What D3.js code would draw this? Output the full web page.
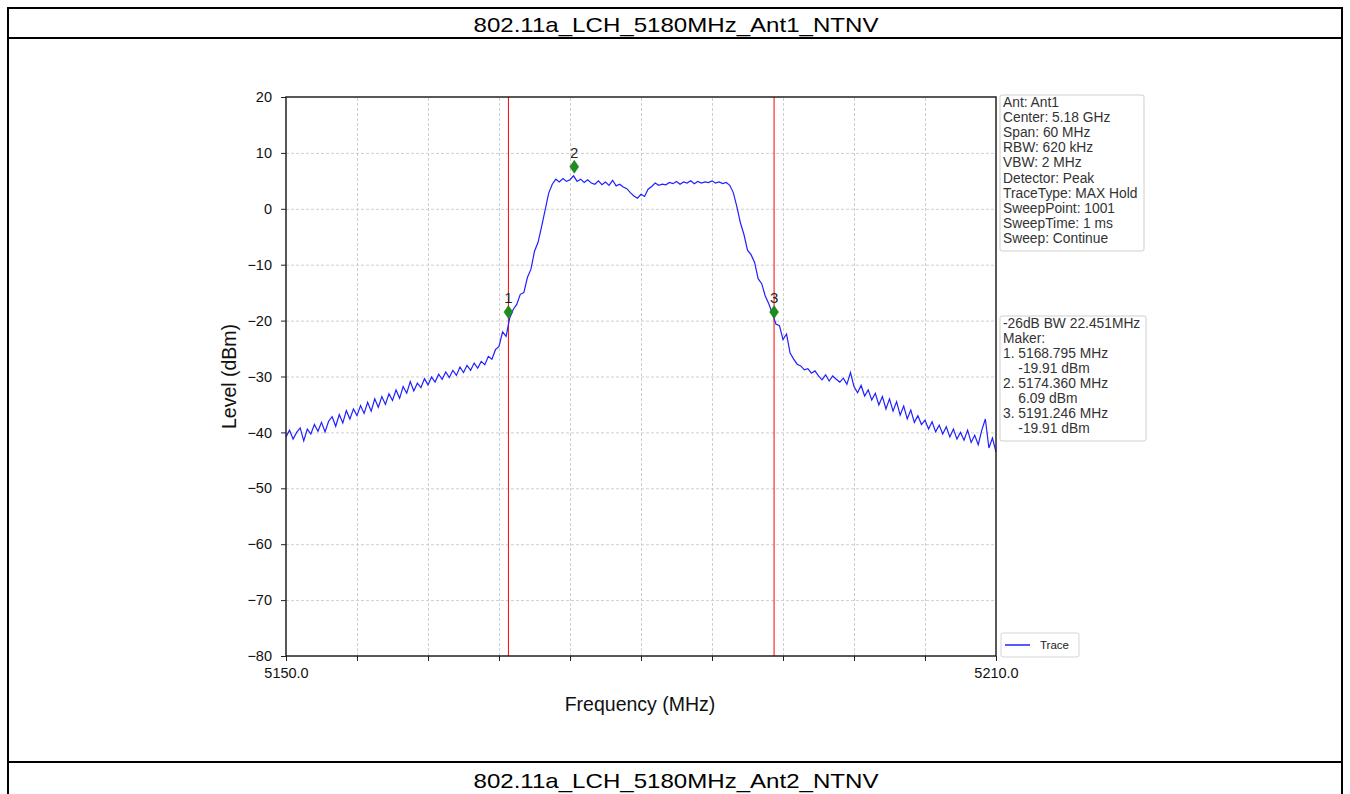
<!DOCTYPE html>
<html><head><meta charset="utf-8">
<script src="https://cdn.jsdelivr.net/npm/d3@7"></script>
<style>
html,body{margin:0;padding:0;background:#fff;}
text{font-family:"Liberation Sans",Arial,sans-serif;}
</style></head>
<body><svg id="c" width="1350" height="794"></svg>
<script>
// ---------- data ----------
const tableTitles = ["802.11a_LCH_5180MHz_Ant1_NTNV", "802.11a_LCH_5180MHz_Ant2_NTNV"];
const freqStart = 5150, freqStop = 5210, freqStep = 0.3;
const traceLevels = [
-40.8,-39.6,-41.2,-40.0,-39.2,-41.5,-39.4,-40.3,-38.6,-39.8,
-38.2,-39.9,-38.0,-37.2,-38.9,-36.8,-38.3,-36.1,-37.6,-35.8,
-37.0,-35.2,-36.6,-34.6,-36.2,-34.0,-35.5,-33.6,-35.0,-33.1,
-34.3,-32.4,-33.9,-31.8,-33.0,-30.9,-32.6,-31.2,-32.0,-30.4,
-31.5,-30.1,-31.0,-29.6,-30.5,-29.2,-30.2,-28.9,-29.8,-28.3,
-29.3,-28.0,-28.9,-27.6,-28.5,-27.3,-27.9,-26.4,-26.9,-25.2,
-24.6,-22.0,-22.8,-19.6,-18.0,-17.1,-15.3,-15.0,-12.3,-10.8,
-7.6,-6.0,-3.2,-0.2,2.8,4.4,5.3,4.8,5.4,4.9,
5.2,5.9,4.9,5.3,4.7,5.2,4.6,4.4,5.0,4.3,
4.8,4.2,5.1,4.1,4.4,3.9,3.6,2.9,2.3,1.9,
2.6,2.2,3.5,4.0,4.6,4.2,4.4,4.3,4.7,4.5,
4.9,4.4,4.8,4.6,5.0,4.5,4.9,4.6,4.8,4.7,
5.0,4.6,4.8,4.5,4.7,4.2,2.9,0.4,-2.5,-4.6,
-7.4,-8.2,-9.6,-12.5,-13.4,-15.6,-17.0,-18.7,-20.6,-20.9,
-23.4,-22.4,-25.8,-26.9,-27.8,-28.1,-28.8,-28.6,-29.4,-29.0,
-29.9,-30.6,-29.7,-30.8,-29.9,-30.5,-31.0,-30.3,-31.4,-29.3,
-31.8,-32.9,-31.6,-33.5,-32.4,-34.2,-33.0,-35.1,-33.6,-35.8,
-34.0,-36.2,-34.5,-36.9,-35.3,-37.6,-36.0,-38.2,-37.0,-38.6,
-37.8,-39.4,-38.1,-39.9,-38.7,-40.3,-39.0,-40.8,-39.4,-41.2,
-40.0,-41.4,-39.6,-41.8,-40.5,-42.2,-39.6,-37.6,-42.8,-41.0,
-43.5
];
const markerIds = ["1", "2", "3"];
const markerFreqs = [5168.795, 5174.360, 5191.246];
const markerLevels = [-19.91, 6.09, -19.91];
const bwLineFreqs = [5168.795, 5191.246];
const yTicks = [20, 10, 0, -10, -20, -30, -40, -50, -60, -70, -80];
const xTicks = [5150, 5156, 5162, 5168, 5174, 5180, 5186, 5192, 5198, 5204, 5210];
const xTickLabels = ["5150.0", "", "", "", "", "", "", "", "", "", "5210.0"];
const infoLines = ["Ant: Ant1", "Center: 5.18 GHz", "Span: 60 MHz", "RBW: 620 kHz", "VBW: 2 MHz",
  "Detector: Peak", "TraceType: MAX Hold", "SweepPoint: 1001", "SweepTime: 1 ms", "Sweep: Continue"];
const markerLines = ["-26dB BW 22.451MHz", "Maker:", "1. 5168.795 MHz", "    -19.91 dBm",
  "2. 5174.360 MHz", "    6.09 dBm", "3. 5191.246 MHz", "    -19.91 dBm"];
const legendLabels = ["Trace"];
const xLabel = "Frequency (MHz)", yLabel = "Level (dBm)";

// ---------- drawing ----------
const svg = d3.select("#c");
const tb = svg.append("g").attr("fill", "none").attr("stroke", "#000").attr("stroke-width", 2);
tb.append("line").attr("x1", 8).attr("x2", 1342).attr("y1", 8).attr("y2", 8);
tb.append("line").attr("x1", 8).attr("x2", 1342).attr("y1", 38).attr("y2", 38);
tb.append("line").attr("x1", 8).attr("x2", 1342).attr("y1", 762).attr("y2", 762);
tb.append("line").attr("x1", 8).attr("x2", 8).attr("y1", 7).attr("y2", 794);
tb.append("line").attr("x1", 1342).attr("x2", 1342).attr("y1", 7).attr("y2", 794);
[[tableTitles[0], 24], [tableTitles[1], 780]].forEach(([t, cy]) => {
  svg.append("text").attr("x", 676).attr("y", cy).attr("text-anchor", "middle").attr("dominant-baseline", "central")
    .attr("font-size", 21).attr("textLength", 405).attr("lengthAdjust", "spacingAndGlyphs")
    .attr("fill", "#000").text(t);
});

const L = 286, R = 996, T = 97, B = 656;
const x = d3.scaleLinear().domain([freqStart, freqStop]).range([L, R]);
const y = d3.scaleLinear().domain([-80, 20]).range([B, T]);

// grid
const grid = svg.append("g");
grid.append("g").attr("transform", `translate(0,${B})`)
  .call(d3.axisBottom(x).tickValues(xTicks.slice(1, -1)).tickSize(-(B - T)).tickFormat(""))
  .call(g => g.select(".domain").remove())
  .call(g => g.selectAll("line").attr("stroke", "#cfcfcf").attr("stroke-dasharray", "3,2"));
grid.append("g").attr("transform", `translate(${L},0)`)
  .call(d3.axisLeft(y).tickValues(yTicks.slice(1, -1)).tickSize(-(R - L)).tickFormat(""))
  .call(g => g.select(".domain").remove())
  .call(g => g.selectAll("line").attr("stroke", "#cfcfcf").attr("stroke-dasharray", "3,2"));

// bandwidth lines
svg.append("g").selectAll("line").data(bwLineFreqs).join("line")
  .attr("x1", d => x(d)).attr("x2", d => x(d)).attr("y1", T).attr("y2", B)
  .attr("stroke", "#ff0000").attr("stroke-width", 1);

// trace
const traceData = traceLevels.map((v, i) => [freqStart + i * freqStep, v]);
svg.append("path").datum(traceData)
  .attr("d", d3.line().x(d => x(d[0])).y(d => y(d[1])))
  .attr("fill", "none").attr("stroke", "#2020ff").attr("stroke-width", 1.2);

// markers
const mk = svg.append("g");
markerIds.forEach((id, i) => {
  const cx = x(markerFreqs[i]), cy = y(markerLevels[i]) - 8;
  mk.append("path").attr("d", `M${cx},${cy - 6.5}L${cx + 4.5},${cy}L${cx},${cy + 6.5}L${cx - 4.5},${cy}Z`)
    .attr("fill", "#1e8c1e").attr("stroke", "#1e7a1e").attr("stroke-width", 0.5);
  mk.append("text").attr("x", cx).attr("y", cy - 9).attr("text-anchor", "middle")
    .attr("font-size", 15).attr("fill", "#222").text(id);
});

// axes
const fam = "'Liberation Sans',Arial,sans-serif";
const axL = svg.append("g").attr("transform", `translate(${L},0)`)
  .call(d3.axisLeft(y).tickValues(yTicks).tickSize(5).tickPadding(9));
axL.select(".domain").remove();
axL.selectAll("text").attr("font-size", 14.5).attr("fill", "#111").style("font-family", fam);
axL.selectAll("line").attr("stroke", "#222");
const axB = svg.append("g").attr("transform", `translate(0,${B})`)
  .call(d3.axisBottom(x).tickValues(xTicks).tickSize(5).tickPadding(7).tickFormat((d, i) => xTickLabels[i]));
axB.select(".domain").remove();
axB.selectAll("text").attr("font-size", 14.5).attr("fill", "#111").style("font-family", fam);
axB.selectAll("line").attr("stroke", "#222");
svg.append("rect").attr("x", L).attr("y", T).attr("width", R - L).attr("height", B - T)
  .attr("fill", "none").attr("stroke", "#222").attr("stroke-width", 1.5);

svg.append("text").attr("x", (L + R) / 2 - 1).attr("y", 711).attr("text-anchor", "middle")
  .attr("font-size", 19.5).attr("fill", "#111").text(xLabel);
svg.append("text").attr("transform", `translate(236,${(T + B) / 2}) rotate(-90)`).attr("text-anchor", "middle")
  .attr("font-size", 19.5).attr("fill", "#111").text(yLabel);

// info boxes
function box(lines, x0, y0, w, lh) {
  const g = svg.append("g");
  g.append("rect").attr("x", x0).attr("y", y0).attr("width", w).attr("height", lines.length * lh + 5)
    .attr("fill", "#fff").attr("stroke", "#cfcfcf").attr("rx", 2);
  g.selectAll("text").data(lines).join("text")
    .attr("x", x0 + 3).attr("y", (d, i) => y0 + 12 + i * lh)
    .attr("font-size", 13.8).attr("fill", "#333").attr("xml:space", "preserve")
    .style("font-family", fam).text(d => d);
}
box(infoLines, 1000, 95, 144, 15.1);
box(markerLines, 1000, 316, 146, 15);

// legend
const lg = svg.append("g");
lg.append("rect").attr("x", 1001).attr("y", 633).attr("width", 78).attr("height", 24)
  .attr("fill", "#fff").attr("stroke", "#d5d5d5").attr("rx", 2);
lg.append("line").attr("x1", 1005).attr("x2", 1030).attr("y1", 645).attr("y2", 645)
  .attr("stroke", "#2020ff").attr("stroke-width", 1.5);
lg.append("text").attr("x", 1040).attr("y", 649).attr("font-size", 11.5).attr("fill", "#222").text(legendLabels[0]);
</script></body></html>
